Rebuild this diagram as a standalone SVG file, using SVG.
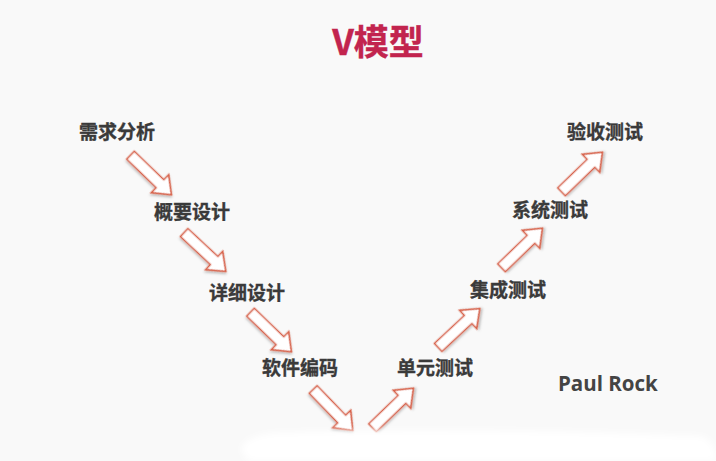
<svg xmlns="http://www.w3.org/2000/svg" width="716" height="461" viewBox="0 0 716 461">
  <style>
    .title { font-family: "Noto Sans CJK SC", "Noto Sans", sans-serif; font-size: 35px; font-weight: 700; fill: #c2244e; stroke: #c2244e; stroke-width: 0.4; }
    .label { font-family: "Noto Sans CJK SC", "Noto Sans", sans-serif; font-size: 19px; font-weight: 700; fill: #3a3a3a; stroke: #3a3a3a; stroke-width: 0.35; text-anchor: middle; }
    .author { font-family: "Open Sans", "Liberation Sans", sans-serif; font-size: 20.5px; font-weight: 700; fill: #444444; }
    .arrow { fill: #ffffff; stroke: #d8644c; stroke-width: 1.6; stroke-linejoin: miter; filter: url(#shadow); }
  </style>
  <defs>
    <filter id="shadow" x="-20%" y="-20%" width="150%" height="150%">
      <feDropShadow dx="1.2" dy="1.5" stdDeviation="0.8" flood-color="#000000" flood-opacity="0.25"/>
    </filter>
    <filter id="soft" x="-10%" y="-50%" width="120%" height="200%">
      <feGaussianBlur stdDeviation="3"/>
    </filter>
    <!-- block arrow centred on the origin, pointing along +x -->
    <path id="blockArrow" d="M -28.5 -5.5 L 12.5 -5.5 L 12.5 -12.5 L 28.5 0 L 12.5 12.5 L 12.5 5.5 L -28.5 5.5 Z"/>
  </defs>

  <!-- background -->
  <rect width="716" height="461" fill="#f9f9f9"/>

  <!-- title -->
  <text class="title" x="378" y="55" text-anchor="middle">V模型</text>

  <!-- connectors -->
  <g id="connectors">
    <use href="#blockArrow" class="arrow" transform="translate(151 175) rotate(44)"/>
    <use href="#blockArrow" class="arrow" transform="translate(205 252) rotate(43)"/>
    <use href="#blockArrow" class="arrow" transform="translate(271 332) rotate(44)"/>
    <use href="#blockArrow" class="arrow" transform="translate(333 410) rotate(46)"/>
    <use href="#blockArrow" class="arrow" transform="translate(393 408) rotate(-44)"/>
    <use href="#blockArrow" class="arrow" transform="translate(459 328) rotate(-43)"/>
    <use href="#blockArrow" class="arrow" transform="translate(522 248) rotate(-44)"/>
    <use href="#blockArrow" class="arrow" transform="translate(582 172) rotate(-44)"/>
  </g>

  <!-- light patch along the lower edge, partly covering the lowest arrow tips -->
  <path d="M 250 461 C 235 450 240 438 272 433 C 380 428 560 430 700 436 C 716 440 716 455 716 461 Z" fill="#ffffff" filter="url(#soft)"/>

  <!-- stages -->
  <g id="n-requirements"><text class="label" x="117" y="139">需求分析</text></g>
  <g id="n-outline-design"><text class="label" x="192" y="219">概要设计</text></g>
  <g id="n-detail-design"><text class="label" x="247" y="300">详细设计</text></g>
  <g id="n-coding"><text class="label" x="300" y="375">软件编码</text></g>
  <g id="n-unit-test"><text class="label" x="435" y="375">单元测试</text></g>
  <g id="n-integration-test"><text class="label" x="508" y="297">集成测试</text></g>
  <g id="n-system-test"><text class="label" x="550" y="217">系统测试</text></g>
  <g id="n-acceptance-test"><text class="label" x="605" y="139">验收测试</text></g>

  <text class="author" x="558" y="391">Paul Rock</text>
</svg>
